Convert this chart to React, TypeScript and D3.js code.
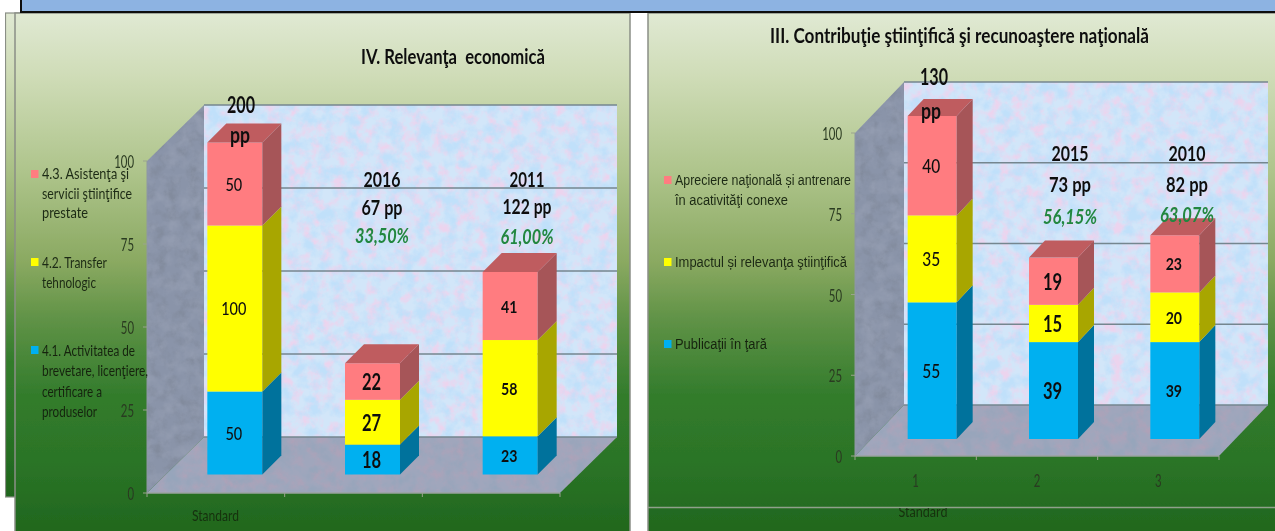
import React from "react";
import * as d3 from "d3";

// ---------- data ----------
const leftCategories = ["Standard", "2016", "2011"];
const left41 = [50, 18, 23];
const left42 = [100, 27, 58];
const left43 = [50, 22, 41];
const leftTicks = [0, 25, 50, 75, 100];
const leftTitle = "IV. Relevanţa  economică";

const rightCategories = ["1", "2", "3"];
const right1 = [55, 39, 39];
const right2 = [35, 15, 20];
const right3 = [40, 19, 23];
const rightTicks = [0, 25, 50, 75, 100];
const rightTitle = "III. Contribuţie ştiinţifică şi recunoaştere naţională";

const seriesColors = [
  { front: "#00b0f0", side: "#00729c", top: "#00729c" },
  { front: "#ffff00", side: "#a8a600", top: "#a8a600" },
  { front: "#ff7c80", side: "#a65558", top: "#bf5c5f" },
];

const FONT = "Lato, 'Noto Sans', sans-serif";
const ARIAL = "'Liberation Sans', Arial, sans-serif";

type T = {
  x: number; y: number; s: string; size: number; w?: number; anchor?: string;
  weight?: number | string; italic?: boolean; fill?: string; font?: string;
};

function Txt({ x, y, s, size, w, anchor = "start", weight = 400, italic, fill = "#111", font = FONT }: T) {
  return (
    <text x={x} y={y} fontSize={size} fontFamily={font} fontWeight={weight} fontStyle={italic ? "italic" : "normal"}
      fill={fill} textAnchor={anchor} dominantBaseline="central" textLength={w} lengthAdjust={w ? "spacingAndGlyphs" : undefined}
      style={{ whiteSpace: "pre" }}>{s}</text>
  );
}

const poly = (pts: [number, number][]) => (d3.line()(pts) || "") + "Z";

type ChartProps = {
  values: number[][]; categories: string[]; ticks: number[]; valueMax: number;
  x0: number; x1: number; yBottom: number; yTop: number; dx: number; dy: number; barW: number; barDepth: number; barDy: number;
  segStyle: { size: number; weight: number; cw: number }[];
  tickRightX: number; tickFill: string; catLabels?: boolean; catY?: number;
};

function Chart3D(p: ChartProps) {
  const { values, categories, ticks, valueMax, x0, x1, yBottom, yTop, dx, dy, barW, barDepth, barDy } = p;
  const axis = d3.scaleLinear().domain([0, 100]).range([yBottom, yTop]);
  const h = d3.scaleLinear().domain([0, valueMax]).range([0, yBottom - yTop]);
  const band = d3.scaleBand<string>().domain(categories).range([x0, x1]);
  const rows = categories.map((c, i) => ({ c, a: values[0][i], b: values[1][i], d: values[2][i] }));
  const stack = d3.stack<any>().keys(["a", "b", "d"])(rows);
  const fx = (c: string) => band(c)! + band.bandwidth() / 2 - barW / 2 + (dx - barDepth) / 2;
  const baseY = yBottom - (dy - barDy) / 2;
  return (
    <g>
      <rect x={x0 + dx} y={axis(100) - dy} width={x1 - x0} height={yBottom - yTop} fill="#cfe0f6" filter="url(#wallTex)" />
      <path d={poly([[x0, axis(100)], [x0 + dx, axis(100) - dy], [x0 + dx, yBottom - dy], [x0, yBottom]])} fill="#8a93a8" filter="url(#sideTex)" />
      <path d={poly([[x0, yBottom], [x0 + dx, yBottom - dy], [x1 + dx, yBottom - dy], [x1, yBottom]])} fill="#9ca2bb" filter="url(#floorTex)" />
      {ticks.map((t) => (
        <line key={t} x1={x0 + dx} x2={x1 + dx} y1={axis(t) - dy} y2={axis(t) - dy} stroke="#75868f" strokeWidth={1.5} />
      ))}
      <line x1={x0} x2={x1} y1={yBottom} y2={yBottom} stroke="#9aa3a0" strokeWidth={1.5} />
      <line x1={x0} x2={x0} y1={yTop} y2={yBottom} stroke="#8e97a3" strokeWidth={1} />
      {ticks.map((t) => (
        <line key={t} x1={x0 - 4} x2={x0} y1={axis(t)} y2={axis(t)} stroke="#9aa38e" strokeWidth={1} />
      ))}
      {d3.range(categories.length + 1).map((i) => {
        const x = x0 + i * band.step();
        return <line key={i} x1={x} x2={x} y1={yBottom} y2={yBottom + 4} stroke="#9aa38e" strokeWidth={1} />;
      })}
      {ticks.map((t) => (
        <Txt key={t} x={p.tickRightX} y={axis(t) + 1} s={String(t)} size={16.5} anchor="end" fill={p.tickFill} w={String(t).length * 6.6} />
      ))}
      {categories.map((c, ci) => {
        const x = fx(c);
        return (
          <g key={c}>
            {stack.map((s, si) => {
              const y0 = baseY - h(s[ci][0]);
              const y1 = baseY - h(s[ci][1]);
              const col = seriesColors[si];
              return (
                <g key={si}>
                  <rect x={x} y={y1} width={barW} height={y0 - y1} fill={col.front} />
                  <path d={poly([[x + barW, y1], [x + barW + barDepth, y1 - barDy], [x + barW + barDepth, y0 - barDy], [x + barW, y0]])} fill={col.side} />
                  {si === stack.length - 1 && (
                    <path d={poly([[x, y1], [x + barDepth, y1 - barDy], [x + barW + barDepth, y1 - barDy], [x + barW, y1]])} fill={col.top} />
                  )}
                </g>
              );
            })}
            {stack.map((s, si) => {
              const y0 = baseY - h(s[ci][0]);
              const y1 = baseY - h(s[ci][1]);
              const st = p.segStyle[ci];
              const str = String(s[ci][1] - s[ci][0]);
              return <Txt key={si} x={x + barW / 2 - 1} y={(y0 + y1) / 2} s={str} size={st.size} weight={st.weight} anchor="middle" w={str.length * st.cw} />;
            })}
          </g>
        );
      })}
      {p.catLabels && categories.map((c) => (
        <Txt key={c} x={band(c)! + band.bandwidth() / 2} y={p.catY!} s={c} size={16.5} anchor="middle" fill={p.tickFill} w={6.6} />
      ))}
    </g>
  );
}

function Swatch({ x, y, c }: { x: number; y: number; c: string }) {
  return <rect x={x} y={y} width={7.5} height={8} fill={c} />;
}

const GREEN = "#23873f";
const LEG = 16;

function Mottle({ id, base, a, b, seed, gain, freq }: { id: string; base: string; a: string; b: string; seed: number; gain: number; freq: number }) {
  const m = (hex: string, g: number) => {
    const c = d3.rgb(hex);
    return `0 0 0 0 ${c.r / 255}  0 0 0 0 ${c.g / 255}  0 0 0 0 ${c.b / 255}  0 0 0 ${g} ${-g * 0.42}`;
  };
  return (
    <filter id={id} x="0" y="0" width="1" height="1" colorInterpolationFilters="sRGB">
      <feFlood floodColor={base} result="f" />
      <feTurbulence type="fractalNoise" baseFrequency={freq} numOctaves={5} seed={seed} result="n1" />
      <feColorMatrix in="n1" type="matrix" values={m(a, gain)} result="p1" />
      <feTurbulence type="fractalNoise" baseFrequency={freq * 0.8} numOctaves={5} seed={seed + 7} result="n2" />
      <feColorMatrix in="n2" type="matrix" values={m(b, gain)} result="p2" />
      <feMerge result="all"><feMergeNode in="f" /><feMergeNode in="p1" /><feMergeNode in="p2" /></feMerge>
      <feComposite in="all" in2="SourceAlpha" operator="in" />
    </filter>
  );
}

export default function App() {
  return (
    <svg width={1275} height={531} viewBox="0 0 1275 531" style={{ position: "absolute", left: 0, top: 0, display: "block", background: "#fff" }}>
      <defs>
        <linearGradient id="bg" x1="0" x2="0" y1="0" y2="1">
          <stop offset="0" stopColor="#e0e9d3" />
          <stop offset="0.12" stopColor="#cfdcb7" />
          <stop offset="0.3" stopColor="#aec48b" />
          <stop offset="0.47" stopColor="#8aa961" />
          <stop offset="0.58" stopColor="#5f9246" />
          <stop offset="0.72" stopColor="#337c2c" />
          <stop offset="0.86" stopColor="#2a7326" />
          <stop offset="1" stopColor="#1f651c" />
        </linearGradient>
        <Mottle id="wallTex" base="#d2e6f9" a="#ecd4ee" b="#c0e0fa" seed={4} gain={3} freq={0.09} />
        <Mottle id="sideTex" base="#8a94a9" a="#828b9d" b="#939cb0" seed={9} gain={2.5} freq={0.09} />
        <Mottle id="floorTex" base="#a0a6bc" a="#aea2b8" b="#96a5bb" seed={14} gain={2.5} freq={0.09} />
        <filter id="soft" x="0" y="0" width="1" height="1"><feGaussianBlur stdDeviation="0.45" /></filter>
        <clipPath id="stdClip"><rect x={647} y={508} width={628} height={23} /></clipPath>
      </defs>

      <g filter="url(#soft)">
        <rect x={5.5} y={13} width={20} height={484} fill="url(#bg)" stroke="#8a8f86" strokeWidth={1.2} />
        <rect x={15} y={13} width={615} height={530} fill="url(#bg)" stroke="#8a8f86" strokeWidth={1.5} />
        <rect x={648} y={13} width={640} height={530} fill="url(#bg)" stroke="#8a8f86" strokeWidth={1.5} />
        <line x1={648} x2={1275} y1={507.5} y2={507.5} stroke="#8fa08c" strokeWidth={1.5} />
        <rect x={21} y={-3} width={1260} height={14} fill="#8db3e2" />
        <path d="M21,0V12H1275" fill="none" stroke="#0b0b0b" strokeWidth={2} />

        <Chart3D
          values={[left41, left42, left43]} categories={leftCategories} ticks={leftTicks} valueMax={200}
          x0={147} x1={560} yBottom={493} yTop={161} dx={57} dy={56} barW={55} barDepth={19} barDy={19}
          segStyle={[{ size: 17, weight: 500, cw: 8.4 }, { size: 22, weight: 700, cw: 9.6 }, { size: 17, weight: 700, cw: 8.2 }]}
          tickRightX={134} tickFill="#2a3a20"
        />
        <Txt x={361} y={56} s={leftTitle} size={20} weight={700} w={184} />
        <Txt x={241} y={104} s="200" size={22} weight={700} anchor="middle" w={28} />
        <Txt x={240} y={134} s="pp" size={22} weight={700} anchor="middle" w={20} />
        <Txt x={382} y={178.5} s="2016" size={21} weight={700} anchor="middle" w={37} />
        <Txt x={382} y={207} s="67 pp" size={20} weight={700} anchor="middle" w={41} />
        <Txt x={382} y={235} s="33,50%" size={20} weight={700} italic anchor="middle" w={54} fill={GREEN} />
        <Txt x={527} y={178} s="2011" size={21} weight={700} anchor="middle" w={35} />
        <Txt x={527} y={206} s="122 pp" size={20} weight={700} anchor="middle" w={49} />
        <Txt x={527} y={236} s="61,00%" size={20} weight={700} italic anchor="middle" w={53} fill={GREEN} />

        <Swatch x={31} y={170} c={seriesColors[2].front} />
        <Txt x={42} y={172} s="4.3. Asistenţa şi" size={LEG} w={87} fill="#1d2a14" />
        <Txt x={42} y={192} s="servicii ştiinţifice" size={LEG} w={90} fill="#1d2a14" />
        <Txt x={42} y={211} s="prestate" size={LEG} w={46} fill="#1d2a14" />
        <Swatch x={31} y={258} c={seriesColors[1].front} />
        <Txt x={42} y={261} s="4.2. Transfer" size={LEG} w={65} fill="#1d2a14" />
        <Txt x={42} y={281} s="tehnologic" size={LEG} w={54} fill="#1d2a14" />
        <Swatch x={31} y={346} c={seriesColors[0].front} />
        <Txt x={42} y={349} s="4.1. Activitatea de" size={LEG} w={93} fill="#16240f" />
        <Txt x={42} y={369} s="brevetare, licenţiere," size={LEG} w={106} fill="#16240f" />
        <Txt x={42} y={390} s="certificare a" size={LEG} w={60} fill="#16240f" />
        <Txt x={42} y={410} s="produselor" size={LEG} w={55} fill="#16240f" />
        <Txt x={192} y={514} s="Standard" size={LEG} w={47} fill="#16300f" />

        <Chart3D
          values={[right1, right2, right3]} categories={rightCategories} ticks={rightTicks} valueMax={130}
          x0={855} x1={1219} yBottom={456} yTop={133} dx={49} dy={51} barW={49} barDepth={16} barDy={17}
          segStyle={[{ size: 19, weight: 500, cw: 9 }, { size: 22, weight: 700, cw: 9.6 }, { size: 17, weight: 700, cw: 8.2 }]}
          tickRightX={842} tickFill="#2a3a20" catLabels catY={481}
        />
        <Txt x={770} y={35} s={rightTitle} size={20} weight={700} w={379} />
        <Txt x={934} y={76} s="130" size={22} weight={700} anchor="middle" w={28} />
        <Txt x={931} y={110} s="pp" size={22} weight={700} anchor="middle" w={20} />
        <Txt x={1070} y={152} s="2015" size={21} weight={700} anchor="middle" w={37} />
        <Txt x={1070} y={184} s="73 pp" size={20} weight={700} anchor="middle" w={42} />
        <Txt x={1070} y={216} s="56,15%" size={20} weight={700} italic anchor="middle" w={54} fill={GREEN} />
        <Txt x={1187} y={152} s="2010" size={21} weight={700} anchor="middle" w={37} />
        <Txt x={1187} y={184} s="82 pp" size={20} weight={700} anchor="middle" w={42} />
        <Txt x={1187} y={214} s="63,07%" size={20} weight={700} italic anchor="middle" w={54} fill={GREEN} />

        <Swatch x={664} y={176} c={seriesColors[2].front} />
        <Txt x={675} y={179} s="Apreciere naţională și antrenare" size={15.5} w={176} font={ARIAL} fill="#1d2a14" />
        <Txt x={675} y={199} s="în acativităţi conexe" size={15.5} w={113} font={ARIAL} fill="#1d2a14" />
        <Swatch x={664} y={258} c={seriesColors[1].front} />
        <Txt x={675} y={261} s="Impactul și relevanţa ştiinţifică" size={15.5} w={172} font={ARIAL} fill="#1d2a14" />
        <Swatch x={664} y={340} c={seriesColors[0].front} />
        <Txt x={675} y={343} s="Publicaţii în ţară" size={15.5} w={92} font={ARIAL} fill="#16240f" />
        <g clipPath="url(#stdClip)">
          <Txt x={923} y={510} s="Standard" size={LEG} anchor="middle" w={49} fill="#16300f" />
        </g>
      </g>
    </svg>
  );
}
